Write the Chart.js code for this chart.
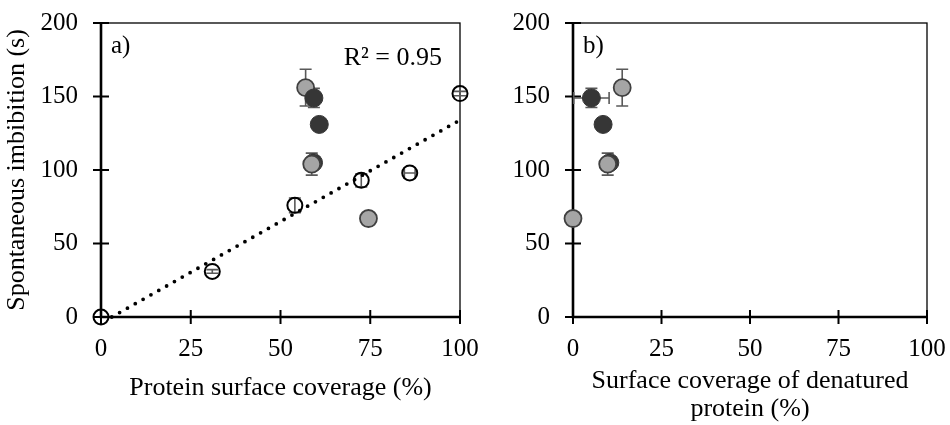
<!DOCTYPE html>
<html>
<head>
<meta charset="utf-8">
<script src="https://cdn.jsdelivr.net/npm/chart.js@4.4.1/dist/chart.umd.min.js"></script>
<style>
  body { margin: 0; background: #fff; }
  #wrap { position: relative; width: 950px; height: 425px; }
  #left { position: absolute; left: 0; top: 0; }
  #right { position: absolute; left: 490px; top: 0; }
</style>
</head>
<body>
<div id="wrap">
  <canvas id="left" width="490" height="425"></canvas>
  <canvas id="right" width="460" height="425"></canvas>
</div>
<script>
// panel a) : protein surface coverage (%) vs spontaneous imbibition (s)
const openCoverage = [0, 31, 54, 72.5, 86, 100];
const openImbibition = [0, 31, 76, 93, 98, 152];
const openErrX = [0, 0, 0, 0, 1.5, 0];
const openErrY = [0, 1.2, 5, 4.5, 0, 1.5];

const greyCoverage = [57, 58.7, 74.5];
const greyImbibition = [156, 104, 67];
const greyErrY = [12.5, 7.5, 0];

const darkCoverage = [59.3, 60.8];
const darkImbibition = [149, 131];
const darkErrY = [6.5, 0];

// dark point hidden behind the grey one at ~105 s
const darkBackCoverage = [59.2];
const darkBackImbibition = [105];

// dotted trend line (R² = 0.95), end points
const trendCoverage = [3, 100];
const trendImbibition = [0, 134];

// panel b) : surface coverage of denatured protein (%)
const greyDenatured = [13.9, 9.8, 0];
const darkDenatured = [5.2, 8.5];
const darkDenaturedErrX = [5, 0];
const darkBackDenatured = [10.4];

const xTicks = [0, 25, 50, 75, 100];
const yTicks = [0, 50, 100, 150, 200];

const serif = '"Liberation Serif", "Times New Roman", serif';
const pts = (xs, ys) => xs.map((x, i) => ({ x: x, y: ys[i] }));

// frame, crossing tick marks, error bars and panel texts
const panelDecor = {
  id: 'panelDecor',
  beforeDatasetsDraw(chart) {
    const { ctx, chartArea: a } = chart;
    const x = chart.scales.x, y = chart.scales.y;
    ctx.save();
    ctx.strokeStyle = '#000';
    ctx.lineWidth = 1.3;
    ctx.strokeRect(a.left, a.top, a.right - a.left, a.bottom - a.top);
    ctx.lineWidth = 2.6;
    ctx.beginPath();
    ctx.moveTo(a.left, a.top);
    ctx.lineTo(a.left, a.bottom);
    ctx.lineTo(a.right, a.bottom);
    ctx.stroke();

    ctx.lineWidth = 2;
    ctx.beginPath();
    y.ticks.forEach(t => {
      const py = y.getPixelForValue(t.value);
      ctx.moveTo(a.left - 8, py); ctx.lineTo(a.left + 8, py);
    });
    x.ticks.forEach(t => {
      const px = x.getPixelForValue(t.value);
      ctx.moveTo(px, a.bottom - 7); ctx.lineTo(px, a.bottom + 7);
    });
    ctx.stroke();

    ctx.strokeStyle = '#595959';
    ctx.lineWidth = 1.6;
    chart.data.datasets.forEach(ds => {
      ds.data.forEach((p, i) => {
        const px = x.getPixelForValue(p.x), py = y.getPixelForValue(p.y);
        const ey = ds.errY ? ds.errY[i] : 0;
        const ex = ds.errX ? ds.errX[i] : 0;
        ctx.beginPath();
        if (ey) {
          const t = y.getPixelForValue(p.y + ey), b = y.getPixelForValue(p.y - ey);
          ctx.moveTo(px, t); ctx.lineTo(px, b);
          ctx.moveTo(px - 6, t); ctx.lineTo(px + 6, t);
          ctx.moveTo(px - 6, b); ctx.lineTo(px + 6, b);
        }
        if (ex) {
          const l = x.getPixelForValue(p.x - ex), r = x.getPixelForValue(p.x + ex);
          ctx.moveTo(l, py); ctx.lineTo(r, py);
          ctx.moveTo(l, py - 6); ctx.lineTo(l, py + 6);
          ctx.moveTo(r, py - 6); ctx.lineTo(r, py + 6);
        }
        ctx.stroke();
      });
    });
    ctx.restore();
  },
  afterDatasetsDraw(chart, args, opts) {
    const { ctx, chartArea: a } = chart;
    ctx.save();
    ctx.fillStyle = '#000';
    ctx.font = '25px ' + serif;
    ctx.textBaseline = 'alphabetic';
    ctx.textAlign = 'left';
    if (opts.tag) ctx.fillText(opts.tag, a.left + 10, a.top + 30);
    if (opts.note) {
      ctx.font = '26px ' + serif;
      ctx.textAlign = 'right';
      ctx.fillText(opts.note, a.right - 18, a.top + 42);
    }
    ctx.restore();
  }
};

function axes(xTitle, titlePad, yWidth, withYTitle) {
  return {
    x: {
      type: 'linear', min: 0, max: 100,
      afterBuildTicks: s => { s.ticks = xTicks.map(v => ({ value: v })); },
      afterFit: s => { s.height = 108; s.paddingLeft = 0; s.paddingRight = 0; },
      grid: { display: false, drawTicks: false }, border: { display: false },
      ticks: { color: '#000', padding: 17, maxRotation: 0, font: { family: serif, size: 25 } },
      title: {
        display: true, text: xTitle, color: '#000',
        font: { family: serif, size: 26, lineHeight: Array.isArray(xTitle) ? 1.08 : 1.2 },
        padding: { top: 0, bottom: titlePad }
      }
    },
    y: {
      type: 'linear', min: 0, max: 200,
      afterBuildTicks: s => { s.ticks = yTicks.map(v => ({ value: v })); },
      afterFit: s => { s.width = yWidth; s.paddingTop = 0; s.paddingBottom = 0; },
      grid: { display: false, drawTicks: false }, border: { display: false },
      ticks: { color: '#000', padding: 23, font: { family: serif, size: 25 } },
      title: {
        display: withYTitle, text: 'Spontaneous imbibition (s)', color: '#000',
        font: { family: serif, size: 26 }, padding: { top: 2, bottom: 0 }
      }
    }
  };
}

const openStyle = { pointRadius: 7.5, pointBackgroundColor: 'rgba(255,255,255,0)', pointBorderColor: '#000', pointBorderWidth: 2 };
const greyStyle = { pointRadius: 8.5, pointBackgroundColor: '#a5a5a5', pointBorderColor: '#404040', pointBorderWidth: 1.8 };
const darkStyle = { pointRadius: 9, pointBackgroundColor: '#363636', pointBorderColor: '#363636', pointBorderWidth: 1 };

const common = {
  responsive: false,
  animation: false,
  events: [],
  devicePixelRatio: 1
};

new Chart(document.getElementById('left'), {
  type: 'scatter',
  data: {
    datasets: [
      Object.assign({ label: 'open', data: pts(openCoverage, openImbibition), errX: openErrX, errY: openErrY, order: 1, clip: false }, openStyle),
      Object.assign({ label: 'dark', data: pts(darkCoverage, darkImbibition), errY: darkErrY, order: 2, clip: false }, darkStyle),
      Object.assign({ label: 'grey', data: pts(greyCoverage, greyImbibition), errY: greyErrY, order: 3, clip: false }, greyStyle),
      Object.assign({ label: 'darkBack', data: pts(darkBackCoverage, darkBackImbibition), order: 4, clip: false }, darkStyle),
      {
        label: 'trend', data: pts(trendCoverage, trendImbibition), showLine: true, order: 5,
        borderColor: '#000', borderWidth: 3.8, borderDash: [0, 9], borderCapStyle: 'round',
        pointRadius: 0, fill: false, clip: false
      }
    ]
  },
  options: Object.assign({}, common, {
    layout: { padding: { left: 0, right: 30, top: 23, bottom: 0 } },
    scales: axes('Protein surface coverage (%)', 21, 101, true),
    plugins: { legend: { display: false }, tooltip: { enabled: false }, panelDecor: { tag: 'a)', note: 'R\u00b2 = 0.95' } }
  }),
  plugins: [panelDecor]
});

new Chart(document.getElementById('right'), {
  type: 'scatter',
  data: {
    datasets: [
      Object.assign({ label: 'dark', data: pts(darkDenatured, darkImbibition), errX: darkDenaturedErrX, errY: darkErrY, order: 2, clip: false }, darkStyle),
      Object.assign({ label: 'grey', data: pts(greyDenatured, greyImbibition), errY: greyErrY, order: 3, clip: false }, greyStyle),
      Object.assign({ label: 'darkBack', data: pts(darkBackDenatured, darkBackImbibition), order: 4, clip: false }, darkStyle)
    ]
  },
  options: Object.assign({}, common, {
    layout: { padding: { left: 0, right: 23, top: 23, bottom: 0 } },
    scales: axes(['Surface coverage of denatured', 'protein (%)'], 2, 83, false),
    plugins: { legend: { display: false }, tooltip: { enabled: false }, panelDecor: { tag: 'b)' } }
  }),
  plugins: [panelDecor]
});
</script>
</body>
</html>
